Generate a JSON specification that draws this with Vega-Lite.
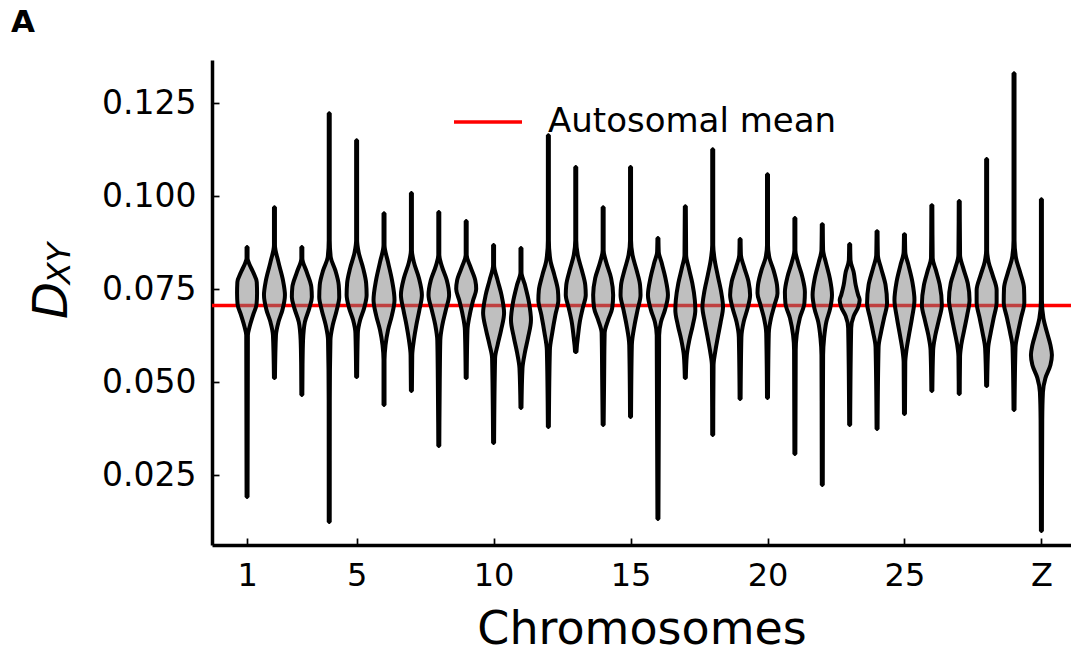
{
 "$schema": "https://vega.github.io/schema/vega-lite/v6.json",
 "width": 859, "height": 485,
 "autosize": {"type": "none"},
 "padding": {"left": 212, "top": 60, "right": 0, "bottom": 109},
 "background": "white",
 "config": {"view": {"stroke": null}, "font": "DejaVu Sans"},
 "title": {"text": "A", "anchor": "start", "frame": "group", "fontSize": 31, "fontWeight": "bold", "font": "DejaVu Sans", "color": "black", "dx": -201, "offset": -3, "baseline": "alphabetic"},
 "data": {"values": [
  {"c":1,"v":0.08629,"lo":0.982,"hi":1.018},{"c":1,"v":0.08333,"lo":0.982,"hi":1.018},{"c":1,"v":0.08226,"lo":0.945,"hi":1.055},{"c":1,"v":0.07957,"lo":0.78,"hi":1.22},{"c":1,"v":0.07688,"lo":0.646,"hi":1.354},{"c":1,"v":0.07392,"lo":0.635,"hi":1.365},{"c":1,"v":0.07097,"lo":0.653,"hi":1.347},{"c":1,"v":0.06801,"lo":0.78,"hi":1.22},{"c":1,"v":0.06478,"lo":0.91,"hi":1.09},{"c":1,"v":0.06263,"lo":0.97,"hi":1.03},{"c":1,"v":0.01909,"lo":0.982,"hi":1.018},
  {"c":2,"v":0.09704,"lo":1.982,"hi":2.018},{"c":2,"v":0.08683,"lo":1.982,"hi":2.018},{"c":2,"v":0.08226,"lo":1.854,"hi":2.146},{"c":2,"v":0.07742,"lo":1.69,"hi":2.31},{"c":2,"v":0.07339,"lo":1.617,"hi":2.383},{"c":2,"v":0.06935,"lo":1.71,"hi":2.29},{"c":2,"v":0.06613,"lo":1.854,"hi":2.146},{"c":2,"v":0.06263,"lo":1.945,"hi":2.055},{"c":2,"v":0.05107,"lo":1.982,"hi":2.018},
  {"c":3,"v":0.08629,"lo":2.982,"hi":3.018},{"c":3,"v":0.08333,"lo":2.982,"hi":3.018},{"c":3,"v":0.07957,"lo":2.82,"hi":3.18},{"c":3,"v":0.07554,"lo":2.653,"hi":3.347},{"c":3,"v":0.07285,"lo":2.635,"hi":3.365},{"c":3,"v":0.06989,"lo":2.726,"hi":3.274},{"c":3,"v":0.06613,"lo":2.89,"hi":3.11},{"c":3,"v":0.06129,"lo":2.956,"hi":3.044},{"c":3,"v":0.05457,"lo":2.975,"hi":3.025},{"c":3,"v":0.0465,"lo":2.982,"hi":3.018},
  {"c":4,"v":0.12231,"lo":3.982,"hi":4.018},{"c":4,"v":0.08817,"lo":3.982,"hi":4.018},{"c":4,"v":0.0836,"lo":3.945,"hi":4.055},{"c":4,"v":0.08011,"lo":3.78,"hi":4.22},{"c":4,"v":0.07608,"lo":3.653,"hi":4.347},{"c":4,"v":0.07285,"lo":3.635,"hi":4.365},{"c":4,"v":0.06935,"lo":3.726,"hi":4.274},{"c":4,"v":0.06532,"lo":3.872,"hi":4.128},{"c":4,"v":0.06129,"lo":3.956,"hi":4.044},{"c":4,"v":0.04516,"lo":3.98,"hi":4.02},{"c":4,"v":0.01237,"lo":3.982,"hi":4.018},
  {"c":5,"v":0.11505,"lo":4.982,"hi":5.018},{"c":5,"v":0.08817,"lo":4.982,"hi":5.018},{"c":5,"v":0.08495,"lo":4.927,"hi":5.073},{"c":5,"v":0.08064,"lo":4.763,"hi":5.237},{"c":5,"v":0.07661,"lo":4.653,"hi":5.347},{"c":5,"v":0.07339,"lo":4.635,"hi":5.365},{"c":5,"v":0.06989,"lo":4.726,"hi":5.274},{"c":5,"v":0.06667,"lo":4.872,"hi":5.128},{"c":5,"v":0.06317,"lo":4.956,"hi":5.044},{"c":5,"v":0.05134,"lo":4.982,"hi":5.018},
  {"c":6,"v":0.09543,"lo":5.982,"hi":6.018},{"c":6,"v":0.08683,"lo":5.982,"hi":6.018},{"c":6,"v":0.08226,"lo":5.854,"hi":6.146},{"c":6,"v":0.07742,"lo":5.71,"hi":6.29},{"c":6,"v":0.07204,"lo":5.617,"hi":6.383},{"c":6,"v":0.06801,"lo":5.71,"hi":6.29},{"c":6,"v":0.06398,"lo":5.854,"hi":6.146},{"c":6,"v":0.05995,"lo":5.945,"hi":6.055},{"c":6,"v":0.05591,"lo":5.982,"hi":6.018},{"c":6,"v":0.04382,"lo":5.982,"hi":6.018},
  {"c":7,"v":0.10081,"lo":6.982,"hi":7.018},{"c":7,"v":0.08548,"lo":6.982,"hi":7.018},{"c":7,"v":0.08226,"lo":6.91,"hi":7.09},{"c":7,"v":0.07796,"lo":6.726,"hi":7.274},{"c":7,"v":0.07339,"lo":6.617,"hi":7.383},{"c":7,"v":0.06935,"lo":6.71,"hi":7.29},{"c":7,"v":0.06532,"lo":6.82,"hi":7.18},{"c":7,"v":0.06129,"lo":6.91,"hi":7.09},{"c":7,"v":0.05726,"lo":6.97,"hi":7.03},{"c":7,"v":0.04758,"lo":6.982,"hi":7.018},
  {"c":8,"v":0.0957,"lo":7.982,"hi":8.018},{"c":8,"v":0.08414,"lo":7.982,"hi":8.018},{"c":8,"v":0.08118,"lo":7.89,"hi":8.11},{"c":8,"v":0.07742,"lo":7.71,"hi":8.29},{"c":8,"v":0.07339,"lo":7.624,"hi":8.376},{"c":8,"v":0.06935,"lo":7.745,"hi":8.255},{"c":8,"v":0.06532,"lo":7.872,"hi":8.128},{"c":8,"v":0.06129,"lo":7.945,"hi":8.055},{"c":8,"v":0.05054,"lo":7.965,"hi":8.035},{"c":8,"v":0.0328,"lo":7.982,"hi":8.018},
  {"c":9,"v":0.09328,"lo":8.982,"hi":9.018},{"c":9,"v":0.08414,"lo":8.982,"hi":9.018},{"c":9,"v":0.08118,"lo":8.854,"hi":9.146},{"c":9,"v":0.07742,"lo":8.67,"hi":9.33},{"c":9,"v":0.075,"lo":8.635,"hi":9.365},{"c":9,"v":0.07204,"lo":8.745,"hi":9.255},{"c":9,"v":0.06801,"lo":8.872,"hi":9.128},{"c":9,"v":0.06398,"lo":8.953,"hi":9.047},{"c":9,"v":0.05107,"lo":8.982,"hi":9.018},
  {"c":10,"v":0.08683,"lo":9.982,"hi":10.018},{"c":10,"v":0.08145,"lo":9.982,"hi":10.018},{"c":10,"v":0.07742,"lo":9.854,"hi":10.146},{"c":10,"v":0.07339,"lo":9.71,"hi":10.29},{"c":10,"v":0.06855,"lo":9.617,"hi":10.383},{"c":10,"v":0.06398,"lo":9.726,"hi":10.274},{"c":10,"v":0.05995,"lo":9.854,"hi":10.146},{"c":10,"v":0.05645,"lo":9.945,"hi":10.055},{"c":10,"v":0.0336,"lo":9.982,"hi":10.018},
  {"c":11,"v":0.08602,"lo":10.982,"hi":11.018},{"c":11,"v":0.07957,"lo":10.982,"hi":11.018},{"c":11,"v":0.07608,"lo":10.854,"hi":11.146},{"c":11,"v":0.0715,"lo":10.71,"hi":11.29},{"c":11,"v":0.06667,"lo":10.635,"hi":11.365},{"c":11,"v":0.06183,"lo":10.745,"hi":11.255},{"c":11,"v":0.05806,"lo":10.854,"hi":11.146},{"c":11,"v":0.05376,"lo":10.945,"hi":11.055},{"c":11,"v":0.04301,"lo":10.982,"hi":11.018},
  {"c":12,"v":0.1164,"lo":11.982,"hi":12.018},{"c":12,"v":0.08817,"lo":11.982,"hi":12.018},{"c":12,"v":0.0828,"lo":11.927,"hi":12.073},{"c":12,"v":0.07876,"lo":11.78,"hi":12.22},{"c":12,"v":0.07473,"lo":11.653,"hi":12.347},{"c":12,"v":0.07204,"lo":11.635,"hi":12.365},{"c":12,"v":0.06801,"lo":11.745,"hi":12.255},{"c":12,"v":0.06344,"lo":11.854,"hi":12.146},{"c":12,"v":0.0586,"lo":11.945,"hi":12.055},{"c":12,"v":0.0379,"lo":11.982,"hi":12.018},
  {"c":13,"v":0.1078,"lo":12.982,"hi":13.018},{"c":13,"v":0.08817,"lo":12.982,"hi":13.018},{"c":13,"v":0.08414,"lo":12.927,"hi":13.073},{"c":13,"v":0.08011,"lo":12.78,"hi":13.22},{"c":13,"v":0.07608,"lo":12.653,"hi":13.347},{"c":13,"v":0.07339,"lo":12.635,"hi":13.365},{"c":13,"v":0.06989,"lo":12.745,"hi":13.255},{"c":13,"v":0.06613,"lo":12.854,"hi":13.146},{"c":13,"v":0.06183,"lo":12.927,"hi":13.073},{"c":13,"v":0.05995,"lo":12.956,"hi":13.044},{"c":13,"v":0.05806,"lo":12.975,"hi":13.025},
  {"c":14,"v":0.09704,"lo":13.982,"hi":14.018},{"c":14,"v":0.08548,"lo":13.982,"hi":14.018},{"c":14,"v":0.08226,"lo":13.89,"hi":14.11},{"c":14,"v":0.07796,"lo":13.71,"hi":14.29},{"c":14,"v":0.07339,"lo":13.635,"hi":14.365},{"c":14,"v":0.06989,"lo":13.67,"hi":14.33},{"c":14,"v":0.06667,"lo":13.82,"hi":14.18},{"c":14,"v":0.06317,"lo":13.945,"hi":14.055},{"c":14,"v":0.05054,"lo":13.965,"hi":14.035},{"c":14,"v":0.03844,"lo":13.982,"hi":14.018},
  {"c":15,"v":0.1078,"lo":14.982,"hi":15.018},{"c":15,"v":0.08817,"lo":14.982,"hi":15.018},{"c":15,"v":0.08414,"lo":14.927,"hi":15.073},{"c":15,"v":0.08011,"lo":14.78,"hi":15.22},{"c":15,"v":0.07608,"lo":14.653,"hi":15.347},{"c":15,"v":0.07339,"lo":14.635,"hi":15.365},{"c":15,"v":0.06935,"lo":14.745,"hi":15.255},{"c":15,"v":0.06532,"lo":14.854,"hi":15.146},{"c":15,"v":0.05995,"lo":14.953,"hi":15.047},{"c":15,"v":0.04059,"lo":14.982,"hi":15.018},
  {"c":16,"v":0.08871,"lo":15.982,"hi":16.018},{"c":16,"v":0.08495,"lo":15.97,"hi":16.03},{"c":16,"v":0.08226,"lo":15.872,"hi":16.128},{"c":16,"v":0.07796,"lo":15.726,"hi":16.274},{"c":16,"v":0.07339,"lo":15.635,"hi":16.365},{"c":16,"v":0.06935,"lo":15.745,"hi":16.255},{"c":16,"v":0.06613,"lo":15.89,"hi":16.11},{"c":16,"v":0.06263,"lo":15.956,"hi":16.044},{"c":16,"v":0.01317,"lo":15.982,"hi":16.018},
  {"c":17,"v":0.09731,"lo":16.982,"hi":17.018},{"c":17,"v":0.08414,"lo":16.97,"hi":17.03},{"c":17,"v":0.08064,"lo":16.872,"hi":17.128},{"c":17,"v":0.07661,"lo":16.745,"hi":17.255},{"c":17,"v":0.07204,"lo":16.653,"hi":17.347},{"c":17,"v":0.06935,"lo":16.635,"hi":17.365},{"c":17,"v":0.06532,"lo":16.726,"hi":17.274},{"c":17,"v":0.06129,"lo":16.854,"hi":17.146},{"c":17,"v":0.05726,"lo":16.945,"hi":17.055},{"c":17,"v":0.05107,"lo":16.982,"hi":17.018},
  {"c":18,"v":0.11263,"lo":17.982,"hi":18.018},{"c":18,"v":0.08683,"lo":17.982,"hi":18.018},{"c":18,"v":0.0828,"lo":17.927,"hi":18.073},{"c":18,"v":0.07876,"lo":17.82,"hi":18.18},{"c":18,"v":0.07419,"lo":17.69,"hi":18.31},{"c":18,"v":0.07016,"lo":17.624,"hi":18.376},{"c":18,"v":0.06613,"lo":17.71,"hi":18.29},{"c":18,"v":0.06183,"lo":17.82,"hi":18.18},{"c":18,"v":0.05806,"lo":17.91,"hi":18.09},{"c":18,"v":0.05457,"lo":17.97,"hi":18.03},{"c":18,"v":0.03575,"lo":17.982,"hi":18.018},
  {"c":19,"v":0.08844,"lo":18.982,"hi":19.018},{"c":19,"v":0.08414,"lo":18.97,"hi":19.03},{"c":19,"v":0.08091,"lo":18.854,"hi":19.146},{"c":19,"v":0.07688,"lo":18.69,"hi":19.31},{"c":19,"v":0.07339,"lo":18.635,"hi":19.365},{"c":19,"v":0.06989,"lo":18.726,"hi":19.274},{"c":19,"v":0.06613,"lo":18.872,"hi":19.128},{"c":19,"v":0.0621,"lo":18.953,"hi":19.047},{"c":19,"v":0.04543,"lo":18.982,"hi":19.018},
  {"c":20,"v":0.10591,"lo":19.982,"hi":20.018},{"c":20,"v":0.08683,"lo":19.982,"hi":20.018},{"c":20,"v":0.08333,"lo":19.927,"hi":20.073},{"c":20,"v":0.08011,"lo":19.78,"hi":20.22},{"c":20,"v":0.07608,"lo":19.653,"hi":20.347},{"c":20,"v":0.07392,"lo":19.635,"hi":20.365},{"c":20,"v":0.0707,"lo":19.745,"hi":20.255},{"c":20,"v":0.0672,"lo":19.872,"hi":20.128},{"c":20,"v":0.06317,"lo":19.953,"hi":20.047},{"c":20,"v":0.0457,"lo":19.982,"hi":20.018},
  {"c":21,"v":0.09409,"lo":20.982,"hi":21.018},{"c":21,"v":0.08548,"lo":20.982,"hi":21.018},{"c":21,"v":0.08226,"lo":20.89,"hi":21.11},{"c":21,"v":0.07823,"lo":20.726,"hi":21.274},{"c":21,"v":0.07419,"lo":20.635,"hi":21.365},{"c":21,"v":0.07124,"lo":20.653,"hi":21.347},{"c":21,"v":0.0672,"lo":20.82,"hi":21.18},{"c":21,"v":0.06263,"lo":20.934,"hi":21.066},{"c":21,"v":0.0586,"lo":20.97,"hi":21.03},{"c":21,"v":0.03065,"lo":20.982,"hi":21.018},
  {"c":22,"v":0.09247,"lo":21.982,"hi":22.018},{"c":22,"v":0.08548,"lo":21.97,"hi":22.03},{"c":22,"v":0.08226,"lo":21.872,"hi":22.128},{"c":22,"v":0.07796,"lo":21.726,"hi":22.274},{"c":22,"v":0.07339,"lo":21.646,"hi":22.354},{"c":22,"v":0.06989,"lo":21.71,"hi":22.29},{"c":22,"v":0.06613,"lo":21.854,"hi":22.146},{"c":22,"v":0.06183,"lo":21.934,"hi":22.066},{"c":22,"v":0.05726,"lo":21.97,"hi":22.03},{"c":22,"v":0.02231,"lo":21.982,"hi":22.018},
  {"c":23,"v":0.0871,"lo":22.982,"hi":23.018},{"c":23,"v":0.0828,"lo":22.97,"hi":23.03},{"c":23,"v":0.07957,"lo":22.854,"hi":23.146},{"c":23,"v":0.07608,"lo":22.78,"hi":23.22},{"c":23,"v":0.07339,"lo":22.69,"hi":23.31},{"c":23,"v":0.07204,"lo":22.635,"hi":23.365},{"c":23,"v":0.07016,"lo":22.69,"hi":23.31},{"c":23,"v":0.06774,"lo":22.854,"hi":23.146},{"c":23,"v":0.06452,"lo":22.945,"hi":23.055},{"c":23,"v":0.03844,"lo":22.982,"hi":23.018},
  {"c":24,"v":0.09059,"lo":23.982,"hi":24.018},{"c":24,"v":0.08414,"lo":23.97,"hi":24.03},{"c":24,"v":0.08064,"lo":23.854,"hi":24.146},{"c":24,"v":0.07608,"lo":23.69,"hi":24.31},{"c":24,"v":0.07124,"lo":23.635,"hi":24.365},{"c":24,"v":0.0672,"lo":23.745,"hi":24.255},{"c":24,"v":0.06344,"lo":23.854,"hi":24.146},{"c":24,"v":0.05941,"lo":23.945,"hi":24.055},{"c":24,"v":0.03737,"lo":23.982,"hi":24.018},
  {"c":25,"v":0.08978,"lo":24.982,"hi":25.018},{"c":25,"v":0.08495,"lo":24.97,"hi":25.03},{"c":25,"v":0.08145,"lo":24.854,"hi":25.146},{"c":25,"v":0.07688,"lo":24.71,"hi":25.29},{"c":25,"v":0.07204,"lo":24.635,"hi":25.365},{"c":25,"v":0.0672,"lo":24.726,"hi":25.274},{"c":25,"v":0.06263,"lo":24.836,"hi":25.164},{"c":25,"v":0.0586,"lo":24.927,"hi":25.073},{"c":25,"v":0.05538,"lo":24.97,"hi":25.03},{"c":25,"v":0.0414,"lo":24.982,"hi":25.018},
  {"c":26,"v":0.09758,"lo":25.982,"hi":26.018},{"c":26,"v":0.08333,"lo":25.97,"hi":26.03},{"c":26,"v":0.08011,"lo":25.854,"hi":26.146},{"c":26,"v":0.07608,"lo":25.71,"hi":26.29},{"c":26,"v":0.0707,"lo":25.635,"hi":26.365},{"c":26,"v":0.06667,"lo":25.745,"hi":26.255},{"c":26,"v":0.06263,"lo":25.872,"hi":26.128},{"c":26,"v":0.0586,"lo":25.953,"hi":26.047},{"c":26,"v":0.04758,"lo":25.982,"hi":26.018},
  {"c":27,"v":0.09866,"lo":26.982,"hi":27.018},{"c":27,"v":0.08414,"lo":26.97,"hi":27.03},{"c":27,"v":0.08064,"lo":26.854,"hi":27.146},{"c":27,"v":0.07661,"lo":26.69,"hi":27.31},{"c":27,"v":0.07204,"lo":26.624,"hi":27.376},{"c":27,"v":0.06801,"lo":26.71,"hi":27.29},{"c":27,"v":0.06398,"lo":26.82,"hi":27.18},{"c":27,"v":0.05995,"lo":26.927,"hi":27.073},{"c":27,"v":0.05699,"lo":26.97,"hi":27.03},{"c":27,"v":0.04677,"lo":26.982,"hi":27.018},
  {"c":28,"v":0.10995,"lo":27.982,"hi":28.018},{"c":28,"v":0.08548,"lo":27.982,"hi":28.018},{"c":28,"v":0.08226,"lo":27.927,"hi":28.073},{"c":28,"v":0.07876,"lo":27.78,"hi":28.22},{"c":28,"v":0.07473,"lo":27.635,"hi":28.365},{"c":28,"v":0.0715,"lo":27.635,"hi":28.365},{"c":28,"v":0.0672,"lo":27.745,"hi":28.255},{"c":28,"v":0.06317,"lo":27.854,"hi":28.146},{"c":28,"v":0.05914,"lo":27.945,"hi":28.055},{"c":28,"v":0.04892,"lo":27.982,"hi":28.018},
  {"c":29,"v":0.13306,"lo":28.982,"hi":29.018},{"c":29,"v":0.08817,"lo":28.982,"hi":29.018},{"c":29,"v":0.08333,"lo":28.927,"hi":29.073},{"c":29,"v":0.07957,"lo":28.78,"hi":29.22},{"c":29,"v":0.07527,"lo":28.635,"hi":29.365},{"c":29,"v":0.0715,"lo":28.624,"hi":29.376},{"c":29,"v":0.0672,"lo":28.745,"hi":29.255},{"c":29,"v":0.06344,"lo":28.854,"hi":29.146},{"c":29,"v":0.05941,"lo":28.945,"hi":29.055},{"c":29,"v":0.04247,"lo":28.982,"hi":29.018},
  {"c":30,"v":0.09919,"lo":29.982,"hi":30.018},{"c":30,"v":0.07204,"lo":29.982,"hi":30.018},{"c":30,"v":0.0672,"lo":29.927,"hi":30.073},{"c":30,"v":0.06344,"lo":29.8,"hi":30.2},{"c":30,"v":0.05995,"lo":29.67,"hi":30.33},{"c":30,"v":0.05726,"lo":29.617,"hi":30.383},{"c":30,"v":0.05457,"lo":29.67,"hi":30.33},{"c":30,"v":0.05107,"lo":29.854,"hi":30.146},{"c":30,"v":0.04731,"lo":29.945,"hi":30.055},{"c":30,"v":0.03978,"lo":29.97,"hi":30.03},{"c":30,"v":0.00995,"lo":29.982,"hi":30.018}
 ]},
 "layer": [
  {
   "data": {"values": [{"label": "Autosomal mean", "mean": 0.0706}]},
   "mark": {"type": "rule", "strokeWidth": 3.3},
   "encoding": {
    "y": {"field": "mean", "type": "quantitative"},
    "color": {"field": "label", "type": "nominal", "scale": {"range": ["#ff0000"]},
     "legend": {"orient": "none", "legendX": 240, "legendY": 26, "title": null, "symbolType": "stroke", "symbolSize": 4624, "symbolStrokeWidth": 3.5, "labelFontSize": 34, "labelFont": "DejaVu Sans", "labelColor": "black", "labelOffset": 24, "labelLimit": 500, "padding": 0}}
   }
  },
  {
   "mark": {"type": "area", "orient": "horizontal", "interpolate": "monotone", "fill": "#808080", "fillOpacity": 0.5, "stroke": "black", "strokeWidth": 4, "strokeJoin": "bevel"},
   "encoding": {
    "y": {"field": "v", "type": "quantitative",
     "scale": {"domain": [0.0062, 0.1366], "nice": false, "zero": false},
     "axis": {"values": [0.025, 0.05, 0.075, 0.1, 0.125], "format": ".3f", "grid": false,
      "title": "D", "titleFontStyle": "italic", "titleFontSize": 48, "titleFontWeight": "normal", "titleFont": "DejaVu Sans", "titleColor": "black",
      "titleX": -146, "titleY": 240, "titleAngle": 270, "titleBaseline": "alphabetic", "titleAlign": "center",
      "labelFontSize": 33, "labelFont": "DejaVu Sans", "labelColor": "black", "labelPadding": 23,
      "tickSize": -7, "tickWidth": 1.7, "tickColor": "black", "domainColor": "black", "domainWidth": 3.5, "labelOverlap": false}},
    "x": {"field": "lo", "type": "quantitative",
     "scale": {"domain": [-0.28, 31.08], "nice": false, "zero": false},
     "axis": {"values": [1, 5, 10, 15, 20, 25, 30], "labelExpr": "datum.value == 30 ? 'Z' : datum.label", "grid": false,
      "title": "Chromosomes", "titleFontSize": 46, "titleFontWeight": "normal", "titleFont": "DejaVu Sans", "titleColor": "black",
      "titleY": 98, "titleBaseline": "alphabetic",
      "labelFontSize": 32, "labelFont": "DejaVu Sans", "labelColor": "black", "labelPadding": 22, "labelFlush": false, "labelOverlap": false,
      "tickSize": -7, "tickWidth": 1.7, "tickColor": "black", "domainColor": "black", "domainWidth": 3.5}},
    "x2": {"field": "hi"},
    "detail": {"field": "c", "type": "nominal"}
   }
  },
  {
   "data": {"values": [{"t": "XY"}]},
   "mark": {"type": "text", "angle": 270, "fontSize": 32, "fontStyle": "italic", "font": "DejaVu Sans", "align": "center", "baseline": "alphabetic", "color": "black"},
   "encoding": {
    "x": {"datum": -5.46},
    "y": {"datum": 0.0819},
    "text": {"field": "t"}
   }
  }
 ]
}
